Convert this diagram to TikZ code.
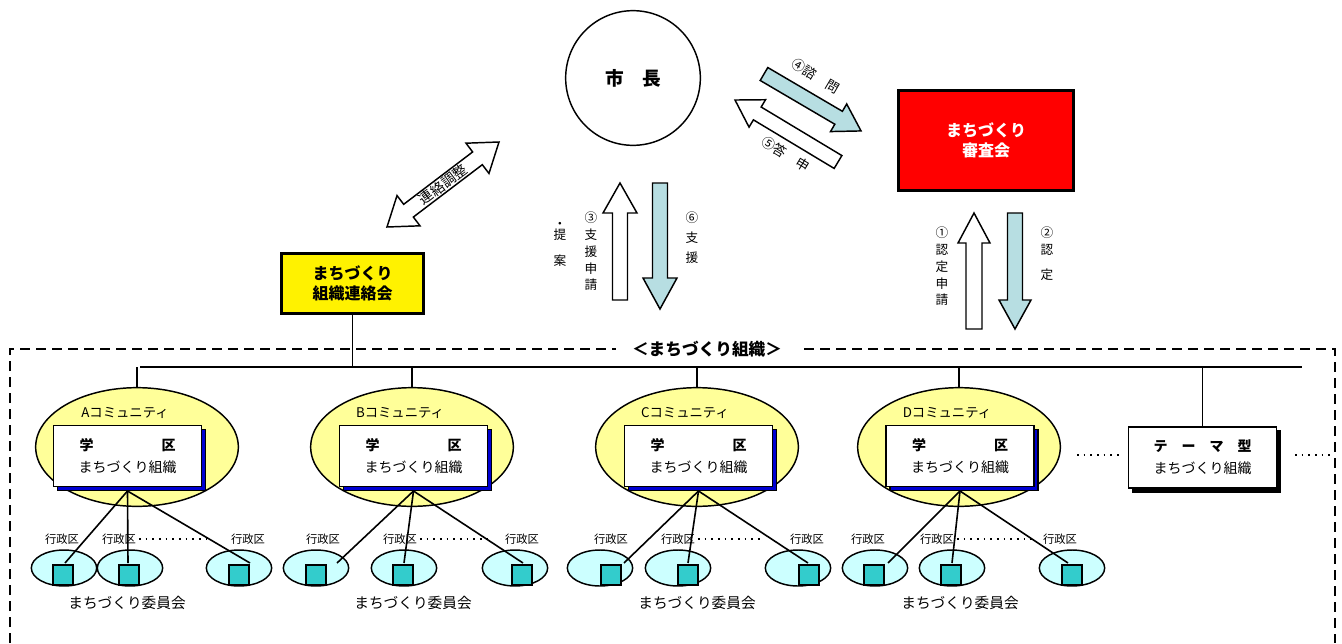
\documentclass[tikz,border=0pt]{standalone}
\usepackage{fontspec}
\setmainfont{Noto Sans CJK JP}
\usetikzlibrary{shapes.geometric,shadows}
\definecolor{ablue}{RGB}{183,222,226}
\definecolor{yell}{RGB}{255,255,153}
\definecolor{cellc}{RGB}{204,255,255}
\definecolor{sqc}{RGB}{51,204,204}
\definecolor{shblue}{RGB}{0,0,210}
\newcommand\fsz[2]{\fontsize{#1}{#2}\selectfont}
\tikzset{
  pics/sarrow/.style args={#1/#2/#3/#4}{code={
    \path[pic actions] (0,-#2) -- ({#1-#4},-#2) -- ({#1-#4},-#3) -- (#1,0)
      -- ({#1-#4},#3) -- ({#1-#4},#2) -- (0,#2) -- cycle;}},
  pics/darrow/.style args={#1/#2/#3/#4}{code={
    \path[pic actions] (0,0) -- (#4,-#3) -- (#4,-#2) -- ({#1-#4},-#2) -- ({#1-#4},-#3)
      -- (#1,0) -- ({#1-#4},#3) -- ({#1-#4},#2) -- (#4,#2) -- (#4,#3) -- cycle;}},
}
\begin{document}
\begin{tikzpicture}[x=0.75pt,y=-0.75pt,
  conn/.style={line width=1pt},
  cline/.style={line width=1.2pt},
  dotline/.style={line width=1.1pt, dash pattern=on 1.2pt off 3.8pt},
  frame/.style={line width=2pt, dash pattern=on 7.5pt off 4.5pt},
  barrow/.style={draw, fill=ablue, line width=1.1pt},
  warrow/.style={draw, fill=white, line width=1.1pt},
  boxbase/.style={draw, line width=1.1pt, fill=white, minimum width=111pt, minimum height=46pt,
     align=center, inner sep=0pt, font=\fsz{10.5}{16.5}},
  ibox/.style={boxbase, general shadow={draw=black, fill=shblue, line width=1pt, shadow xshift=3pt, shadow yshift=-3pt}},
  tbox/.style={boxbase, general shadow={draw=black, fill=black, line width=1pt, shadow xshift=3pt, shadow yshift=-3pt}},
  comm/.style={ellipse, draw, line width=1.1pt, fill=yell, minimum width=152pt, minimum height=89pt, inner sep=0pt},
  cell/.style={ellipse, draw, line width=1.1pt, fill=cellc, minimum width=49pt, minimum height=27pt, inner sep=0pt},
  sq/.style={draw, line width=2.2pt, fill=sqc, minimum size=15pt, inner sep=0pt},
  clabel/.style={font=\fsz{10}{12}, inner sep=0pt},
  klabel/.style={font=\fsz{8.5}{10}, inner sep=0pt},
  mlabel/.style={font=\fsz{11}{12}, inner sep=0pt},
  vlabel/.style={align=center, inner sep=0pt, font=\fsz{9.5}{12.6}},
]
\useasboundingbox (0,0) rectangle (1342,643);

% top organisations
\node[circle, draw, line width=1.1pt, minimum size=101pt, inner sep=0pt, font=\bfseries\fsz{14}{16}] (mayor) at (633,78) {市　長};
\node[draw, line width=2.2pt, fill=red, text=white, minimum width=131pt, minimum height=75pt, align=center, font=\bfseries\fsz{12}{14.5}] (council) at (986,140.5) {まちづくり\\審査会};
\node[draw, line width=2.2pt, fill=yellow, minimum width=106.5pt, minimum height=45pt, align=center, font=\bfseries\fsz{12}{14.5}] (liaison) at (352.5,283.5) {まちづくり\\組織連絡会};

% block arrows
\pic[warrow, rotate=37.2] at (387,227) {darrow=140.6/8/19/27};
\node[rotate=37.2, font=\fsz{10.5}{11}, inner sep=0pt] (t0) at (443,184.5) {連絡調整};
\pic[barrow, rotate=-30.4] at (764,74) {sarrow=112.5/7.5/16/26};
\node[rotate=-30.4, font=\fsz{10}{11}, inner sep=0pt] (t4) at (816,76) {④諮　問};
\pic[warrow, rotate=148.96] at (838,162) {sarrow=120.2/7.5/16/26};
\node[rotate=-31, font=\fsz{10}{11}, inner sep=0pt] (t5) at (786,154) {⑤答　申};
\pic[warrow, rotate=90] at (620,300) {sarrow=117/7.5/17/30};
\pic[barrow, rotate=-90] at (660,183) {sarrow=126/7.5/17/31};
\pic[warrow, rotate=90] at (974,329) {sarrow=116/8/16/30};
\pic[barrow, rotate=-90] at (1015,213) {sarrow=116/7.5/16/29};
\node[vlabel] (t3a) at (591,251.5) {③\\支\\援\\申\\請};
\node[vlabel, font=\fsz{9.5}{8.5}] (t3b) at (560,244.5) {・\\提\\[9.5pt]案};
\node[vlabel, font=\fsz{9.5}{15}] (t6) at (692,238) {⑥\\支\\援};
\node[vlabel] (t1) at (942,266.5) {①\\認\\定\\申\\請};
\node[vlabel, font=\fsz{9.5}{12.75}] (t2) at (1047,254) {②\\認\\[6pt]定};

% frame
\draw[frame] (10,643) -- (10,349) -- (1335,349) -- (1335,643);
\node[fill=white, font=\bfseries\fsz{12.5}{14}, inner xsep=12pt, inner ysep=2pt] (title) at (707,349) {＜まちづくり組織＞};

% bus
\coordinate (busL) at (140,367);
\coordinate (busR) at (1302,367);
\draw[conn] (busL) -- (busR);
\draw[conn] (liaison.south) -- (liaison.south |- busL);

% communities
\foreach \L/\E/\B/\T/\ea/\sa/\la/\eb/\sb/\lb/\ec/\sc/\lc/\ka/\kb/\kc/\db/\M in {
  A/137/127.5/125/64/63/65/130/129/128/239/239/250/62/119/248/210/127,
  B/412/413.5/400/316/316/337/404/403/404/515/522/523/323/400/522/487/413,
  C/697/698.5/685/600/611/624/678/688/688/798/809/808/611/678/807/763/697,
  D/959/960/947/875/874/888/952/951/952/1072/1072/1068/868/937/1060/1035/960}{
  \node[comm] (comm\L) at (\E,447) {};
  \draw[conn] (comm\L.north |- busL) -- (comm\L.north);
  \node[cell] (ca\L) at (\ea,568) {};
  \node[cell] (cb\L) at (\eb,568) {};
  \node[cell] (cc\L) at (\ec,568) {};
  \coordinate (hub\L) at (\B,491);
  \coordinate (enda\L) at (\la,563);
  \coordinate (endb\L) at (\lb,563);
  \coordinate (endc\L) at (\lc,563);
  \draw[cline] (hub\L) -- (enda\L);
  \draw[cline] (hub\L) -- (endb\L);
  \draw[cline] (hub\L) -- (endc\L);
  \node[sq] (sa\L) at (\sa,575) {};
  \node[sq] (sb\L) at (\sb,575) {};
  \node[sq] (sc\L) at (\sc,575) {};
  \node[ibox] (box\L) at (\B,456) {\textbf{\makebox[72pt]{学\hfill 区}}\\まちづくり組織};
  \node[clabel] (lab\L) at (\T,413) {{\L}コミュニティ};
  \node[klabel] (ka\L) at (\ka,539) {行政区};
  \node[klabel] (kb\L) at (\kb,539) {行政区};
  \node[klabel] (kc\L) at (\kc,539) {行政区};
  \coordinate (de\L) at (\db,539);
  \draw[dotline] ([xshift=2pt]kb\L.east) -- (de\L);
  \node[mlabel] (m\L) at (\M,603) {まちづくり委員会};
}

% theme-type organisation
\node[tbox] (theme) at (1202.5,457.5) {\textbf{テ　ー　マ　型}\\まちづくり組織};
\draw[conn] (theme.north |- busL) -- (theme.north);
\coordinate (dl1) at (1077,455);
\coordinate (dl2) at (1120,455);
\coordinate (dr1) at (1295,455);
\coordinate (dr2) at (1332,455);
\draw[dotline] (dl1) -- (dl2);
\draw[dotline] (dr1) -- (dr2);
\end{tikzpicture}
\end{document}
